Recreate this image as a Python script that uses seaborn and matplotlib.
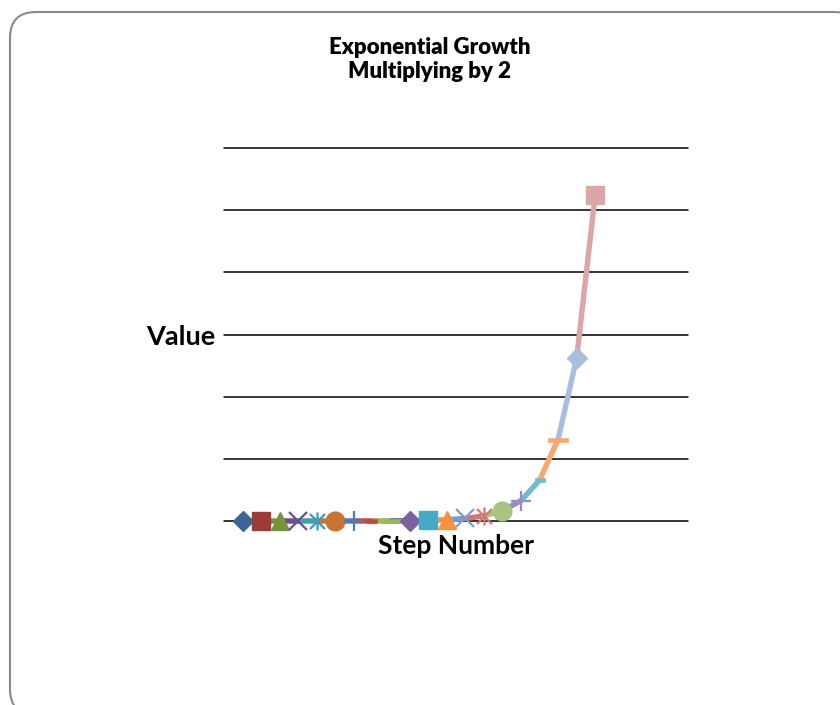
import matplotlib
matplotlib.use("Agg")
import matplotlib.pyplot as plt
import seaborn as sns
import pandas as pd
from matplotlib.path import Path
from matplotlib.patches import FancyBboxPatch

# ---- data ----
steps = [1, 2, 3, 4, 5, 6, 7, 8, 9, 10, 11, 12, 13, 14, 15, 16, 17, 18, 19, 20]
values = [2, 4, 8, 16, 32, 64, 128, 256, 512, 1024, 2048, 4096, 8192, 16384,
          32768, 65536, 131072, 262144, 524288, 1048576]
point_colors = ["#3C6496", "#9A3B38", "#77933C", "#6B4F8C", "#3C9CB5", "#C87533",
                "#4A7EBB", "#BE4B48", "#98B954", "#7D60A0", "#46AAC5", "#F69240",
                "#7C9CD0", "#D17875", "#A8C47F", "#9E8AC0", "#6DBBD1", "#F9A870",
                "#A9BEDD", "#DBA6A6"]
marker_kinds = ["diamond", "square", "triangle", "x", "star", "circle", "plus",
                "dash", "long_dash", "diamond", "square", "triangle", "x", "star",
                "circle", "plus", "dash", "long_dash", "diamond", "square"]
title_lines = ["Exponential Growth", "Multiplying by 2"]
x_title = "Step Number"
y_title = "Value"
y_ticks = [0, 200000, 400000, 600000, 800000, 1000000, 1200000]
x_limits = [0, 25]

df = pd.DataFrame({"step": steps, "value": values})

# ---- styling ----
sns.set_style("white")
plt.rcParams["font.family"] = ["Lato", "DejaVu Sans"]

star_path = Path([(-1, -1), (1, 1), (-1, 1), (1, -1), (0, -1.2), (0, 1.2)],
                 [Path.MOVETO, Path.LINETO, Path.MOVETO, Path.LINETO, Path.MOVETO, Path.LINETO])
short_dash = Path([(-1, -0.4), (1, -0.4), (1, 0.4), (-1, 0.4), (-1, -0.4)],
                  [Path.MOVETO, Path.LINETO, Path.LINETO, Path.LINETO, Path.CLOSEPOLY])
long_dash = Path([(-1, -0.2), (1, -0.2), (1, 0.2), (-1, 0.2), (-1, -0.2)],
                 [Path.MOVETO, Path.LINETO, Path.LINETO, Path.LINETO, Path.CLOSEPOLY])

marker_style = {
    "diamond": dict(marker="D", markersize=9.8, mew=1.0, filled=True),
    "square": dict(marker="s", markersize=12.5, mew=1.0, filled=True),
    "triangle": dict(marker="^", markersize=12.5, mew=1.0, filled=True),
    "x": dict(marker="x", markersize=12.5, mew=1.6, filled=False),
    "star": dict(marker=star_path, markersize=13.0, mew=1.6, filled=False),
    "circle": dict(marker="o", markersize=13.5, mew=1.0, filled=True),
    "plus": dict(marker="+", markersize=14.0, mew=1.6, filled=False),
    "dash": dict(marker=short_dash, markersize=7.5, mew=0.5, filled=True),
    "long_dash": dict(marker=long_dash, markersize=14.5, mew=0.5, filled=True),
}

fig = plt.figure(figsize=(8.4, 7.05), dpi=100)

# rounded chart border
border = FancyBboxPatch((0.10, -0.10), 8.5, 7.03,
                        boxstyle="round,pad=0,rounding_size=0.26",
                        transform=fig.dpi_scale_trans, facecolor="white",
                        edgecolor="#8A8A8A", linewidth=1.5, zorder=-10)
fig.patches.append(border)

ax = fig.add_axes([224 / 840, (705 - 521) / 705, 464 / 840, 373 / 705])
ax.set_zorder(5)
ax.patch.set_alpha(0)

# gridlines
for yt in y_ticks:
    ax.axhline(yt, color="black", linewidth=1.1, clip_on=False, zorder=1)

# line segments coloured by their destination point
for i in range(1, len(df)):
    seg = df.iloc[i - 1:i + 1]
    sns.lineplot(data=seg, x="step", y="value", color=point_colors[i],
                 linewidth=3.9, ax=ax, zorder=2, sort=False,
                 solid_capstyle="round", clip_on=False)

# markers
for i in range(len(df)):
    st = marker_style[marker_kinds[i]]
    c = point_colors[i]
    sns.lineplot(x=[df["step"][i]], y=[df["value"][i]], ax=ax, color=c,
                 marker=st["marker"], markersize=st["markersize"],
                 markeredgewidth=st["mew"], markeredgecolor=c,
                 markerfacecolor=c if st["filled"] else "none",
                 linestyle="none", zorder=3 + i, clip_on=False)

ax.set_xlim(*x_limits)
ax.set_ylim(y_ticks[0], y_ticks[-1])
ax.set_xticks([])
ax.set_yticks([])
sns.despine(ax=ax, left=True, bottom=True)

ax.set_xlabel(x_title, fontsize=19, fontweight="bold", color="black")
ax.xaxis.set_label_coords(0.5, -0.068)
ax.xaxis.label.set_va("center")
ax.set_ylabel(y_title, fontsize=19.5, fontweight="bold", color="black", rotation=0)
ax.yaxis.set_label_coords(-0.0927, 0.493)
ax.yaxis.label.set_va("center")
ax.yaxis.label.set_ha("center")

fig.text(430 / 840, 1 - 47 / 705, title_lines[0], ha="center", va="center",
         fontsize=16, fontweight="heavy", color="black")
fig.text(430 / 840, 1 - 72 / 705, title_lines[1], ha="center", va="center",
         fontsize=16, fontweight="heavy", color="black")

fig.savefig("out.png", dpi=100)
